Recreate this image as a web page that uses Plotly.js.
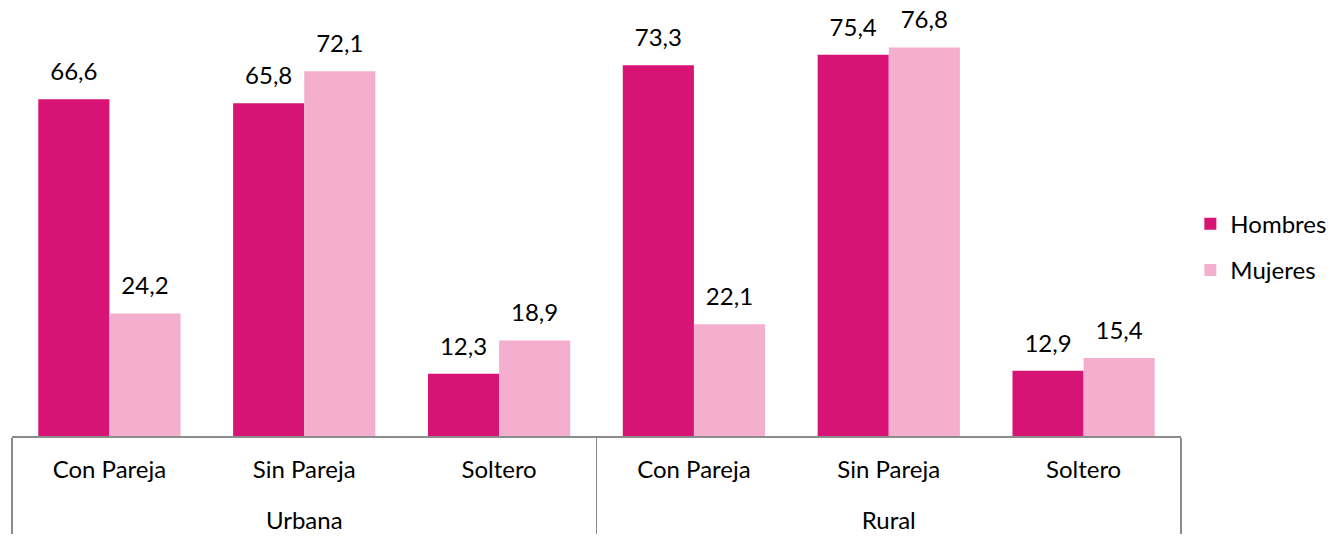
<!DOCTYPE html>
<html><head><meta charset="utf-8">
<script src="https://cdn.plot.ly/plotly-3.0.1.min.js"></script>
<style>body{margin:0}#c{width:1338px;height:536px}</style>
</head><body><div id="c"></div>
<script>
const zonas = ["Urbana","Urbana","Urbana","Rural","Rural","Rural"];
const estados = ["Con Pareja","Sin Pareja","Soltero","Con Pareja","Sin Pareja","Soltero"];
const hombres = [66.6, 65.8, 12.3, 73.3, 75.4, 12.9];
const mujeres = [24.2, 72.1, 18.9, 22.1, 76.8, 15.4];
const FONT = "Lato, 'Open Sans', sans-serif";
const zonaLabels = zonas.map(z => "<br>" + z);
const bar = (name, y, color) => ({
  type: "bar", name: name, x: [zonaLabels, estados], y: y,
  marker: {color: color}, legendgroup: name
});
const lab = (name, y) => ({
  type: "bar", name: name, x: [zonaLabels, estados], y: y, yaxis: "y2",
  marker: {color: "rgba(0,0,0,0)"}, showlegend: false, hoverinfo: "skip",
  texttemplate: "%{y:.1f}", textposition: "outside", cliponaxis: false,
  textfont: {family: FONT, size: 24, color: "#000"}
});
const data = [
  bar("Hombres", hombres, "#D71376"), bar("Mujeres", mujeres, "#F4AECE"),
  lab("Hombres", hombres), lab("Mujeres", mujeres)
];
const layout = {
  width: 1338, height: 536,
  margin: {l: 12, r: 157, t: 0, b: 100},
  separators: ",.",
  barmode: "group", bargap: 0.27, bargroupgap: 0,
  paper_bgcolor: "#fff", plot_bgcolor: "#fff",
  font: {family: FONT, size: 24, color: "#000"},
  xaxis: {type: "multicategory", showline: true, linecolor: "#8c8c8c", linewidth: 1.5,
    showdividers: true, dividercolor: "#8c8c8c", dividerwidth: 1.5,
    ticklabelstandoff: 12,
    tickfont: {family: FONT, size: 24, color: "#000"}, ticks: "", showgrid: false},
  yaxis: {range: [0, 86.2], visible: false, showgrid: false, zeroline: false},
  yaxis2: {range: [-2.2, 84], overlaying: "y", visible: false, showgrid: false, zeroline: false},
  legend: {x: 1.008, xanchor: "left", y: 0.433, yanchor: "middle", traceorder: "grouped",
    font: {family: FONT, size: 24, color: "#000"}, itemwidth: 30, tracegroupgap: 12}
};
Plotly.newPlot("c", data, layout, {displayModeBar: false, staticPlot: true});
</script></body></html>
